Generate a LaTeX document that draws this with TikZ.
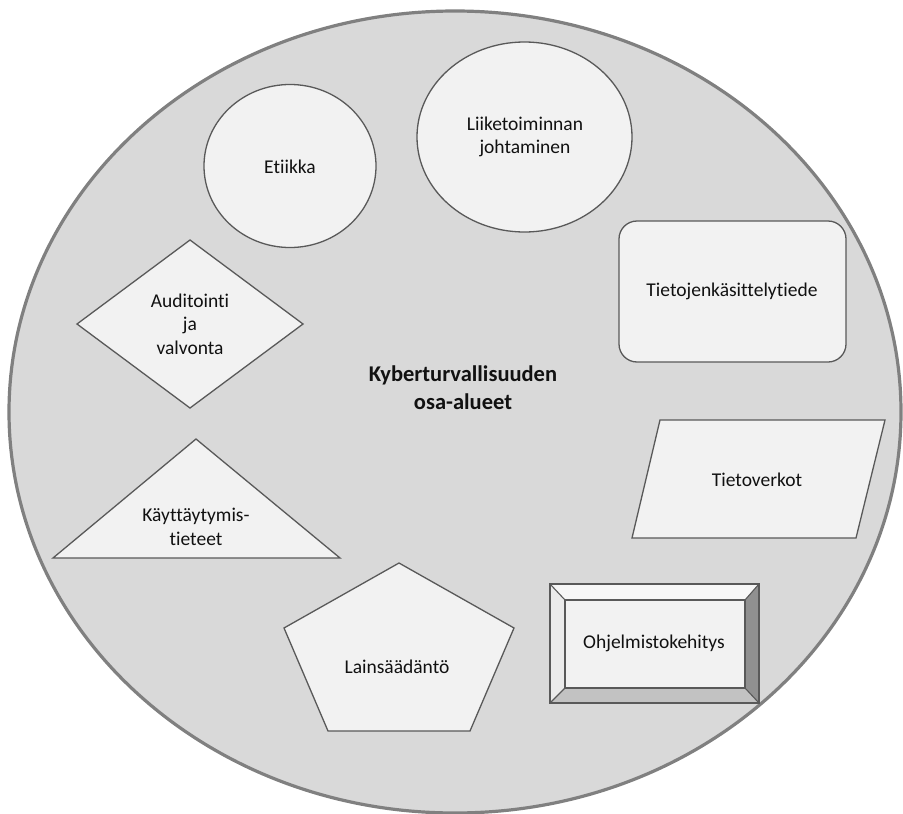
\documentclass[tikz,border=0pt]{standalone}
\usepackage{fontspec}
\setmainfont[Ligatures=NoCommon]{Carlito}
\definecolor{areafill}{HTML}{D9D9D9}
\definecolor{rimgray}{HTML}{808080}
\definecolor{shapefill}{HTML}{F2F2F2}
\definecolor{shapeline}{HTML}{595959}
\definecolor{inktext}{HTML}{111111}
\definecolor{bevtop}{HTML}{F7F7F7}
\definecolor{bevleft}{HTML}{EBEBEB}
\definecolor{bevright}{HTML}{909090}
\definecolor{bevbottom}{HTML}{C2C2C2}
\tikzset{
  area/.style={fill=areafill, draw=rimgray, line width=3.2pt},
  part/.style={fill=shapefill, draw=shapeline, line width=1.3pt, line join=miter},
  label/.style={text=inktext, align=center, inner sep=0pt,
    font=\fontsize{19.5}{23.5}\selectfont},
  title/.style={text=inktext, align=center, inner sep=0pt,
    font=\bfseries\fontsize{22.5}{28}\selectfont}
}
\begin{document}
\begin{tikzpicture}[x=1pt, y=-1pt]
\useasboundingbox (0,0) rectangle (903,814);

% surrounding field
\path[area] (455,412) ellipse [x radius=446pt, y radius=401pt];

% round shapes
\path[part] (290,166) ellipse [x radius=86pt, y radius=81.5pt];
\path[part] (524.5,137) ellipse [x radius=107.5pt, y radius=95pt];

% rounded box
\path[part, rounded corners=18pt] (619,221) rectangle (846,362);

% diamond
\path[part] (190,240) -- (303,324) -- (190,408) -- (77,324) -- cycle;

% triangle
\path[part] (196,439) -- (340,558) -- (53,558) -- cycle;

% parallelogram
\path[part] (660,420) -- (885,420) -- (856,538) -- (632,538) -- cycle;

% pentagon
\path[part] (399,563) -- (514,628) -- (470,731) -- (328,731) -- (284,628) -- cycle;

% bevelled box
\coordinate (o1) at (550,584);
\coordinate (o2) at (759,584);
\coordinate (o3) at (759,703);
\coordinate (o4) at (550,703);
\coordinate (i1) at (565,600);
\coordinate (i2) at (745,600);
\coordinate (i3) at (745,688);
\coordinate (i4) at (565,688);
\fill[bevtop] (o1) -- (o2) -- (i2) -- (i1) -- cycle;
\fill[bevright] (o2) -- (o3) -- (i3) -- (i2) -- cycle;
\fill[bevbottom] (o3) -- (o4) -- (i4) -- (i3) -- cycle;
\fill[bevleft] (o4) -- (o1) -- (i1) -- (i4) -- cycle;
\fill[shapefill] (i1) rectangle (i3);
\draw[shapeline, line width=1.3pt] (o1) rectangle (o3);
\draw[shapeline, line width=1.1pt] (i1) rectangle (i3);
\draw[shapeline, line width=1.1pt] (o1) -- (i1) (o2) -- (i2) (o3) -- (i3) (o4) -- (i4);

% labels
\node[label] (etiikka) at (290,167) {Etiikka};
\node[label] (liike) at (525,137) {Liiketoiminnan\\johtaminen};
\node[label] (tkt) at (732,291) {Tietojenkäsittelytiede};
\node[label] (audit) at (190,324) {Auditointi\\ja\\valvonta};
\node[title] (kyber) at (463,388) {Kyberturvallisuuden\\osa-alueet};
\node[label] (kayt) at (196,527) {Käyttäytymis-\\tieteet};
\node[label] (verkot) at (757,480) {Tietoverkot};
\node[label] (laki) at (397,667) {Lainsäädäntö};
\node[label] (ohj) at (654,643) {Ohjelmistokehitys};
\end{tikzpicture}
\end{document}
